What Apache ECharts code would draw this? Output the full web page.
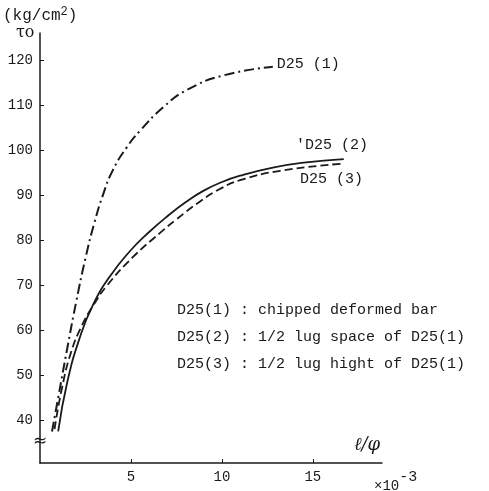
<!DOCTYPE html>
<html>
<head>
<meta charset="utf-8">
<script src="https://cdn.jsdelivr.net/npm/echarts@6/dist/echarts.min.js"></script>
<style>
  html, body { margin: 0; padding: 0; background: #fff; }
  #J_Main { width: 489px; height: 491px; }
</style>
</head>
<body>
<div id="J_Main"></div>
<script>
// values (x in 10^-3, y in kg/cm2)
var d1X = [0.66, 1.0, 1.5, 2.0, 2.5, 3.0, 3.5, 4.0, 4.75, 5.5, 6.8, 8.1, 10.1, 12.8];
var d1Y = [37.5, 45, 56, 66.5, 76, 84, 90.5, 95.5, 100.5, 104.3, 109.6, 113.4, 116.6, 118.5];

var d2X = [1.0, 1.5, 2.2, 2.9, 3.85, 5.0, 6.0, 7.0, 8.0, 9.0, 10.0, 11.0, 12.8, 14.5, 16.7];
var d2Y = [37.5, 48.5, 58.5, 65.5, 72, 77.8, 81.8, 85.3, 88.4, 91.0, 92.9, 94.3, 96.1, 97.2, 98.0];

var d3X = [0.8, 1.2, 1.7, 2.3, 2.9, 3.7, 5.1, 6.6, 7.5, 8.8, 10.0, 11.0, 13.2, 16.7];
var d3Y = [38, 47, 55, 61, 65.3, 70, 76.2, 81.6, 84.6, 88.6, 91.6, 93.3, 95.4, 97.0];

var xTicks = [5, 10, 15];
var yTicks = [40, 50, 60, 70, 80, 90, 100, 110, 120];

var legendLines = [
    "D25(1) : chipped deformed bar",
    "D25(2) : 1/2 lug space of D25(1)",
    "D25(3) : 1/2 lug hight of D25(1)"
];

function pairs(xs, ys) {
    return xs.map(function (x, i) { return [x, ys[i]]; });
}

var FONT = "Liberation Mono";
var INK = "#1a1a1a";

var myChart = echarts.init(document.getElementById("J_Main"), null, { renderer: "canvas" });

var textGraphics = [
    {
        type: "text", left: 3, top: 6, z: 100,
        style: {
            text: "{a|(kg/cm}{s|2}{a|)}",
            rich: {
                a: { fontFamily: FONT, fontSize: 16, fill: INK },
                s: { fontFamily: FONT, fontSize: 12, fill: INK, padding: [0, 0, 8, 0] }
            }
        }
    },
    { type: "text", left: 16, top: 25, z: 100, style: { text: "τo", fontFamily: "DejaVu Serif", fontSize: 16, fill: INK } },
    { type: "text", left: 33, top: 433, z: 100, style: { text: "≈", fontFamily: "DejaVu Sans", fontSize: 17, fill: INK } },
    { type: "text", left: 354, top: 436, z: 100, style: { text: "ℓ/φ", fontFamily: "DejaVu Serif", fontSize: 18, fontStyle: "italic", fill: INK } },
    {
        type: "text", left: 374, top: 470, z: 100,
        style: {
            text: "{a|×10}{s|-3}",
            rich: {
                a: { fontFamily: FONT, fontSize: 14, fill: INK, verticalAlign: "bottom" },
                s: { fontFamily: FONT, fontSize: 15, fill: INK, padding: [0, 0, 8, 0] }
            }
        }
    },
    { type: "text", left: 296, top: 138, z: 100, style: { text: "'D25 (2)", fontFamily: FONT, fontSize: 15, fill: INK } },
    { type: "text", left: 300, top: 172, z: 100, style: { text: "D25 (3)", fontFamily: FONT, fontSize: 15, fill: INK } }
];
legendLines.forEach(function (t, i) {
    textGraphics.push({ type: "text", left: 177, top: 303 + i * 27, z: 100, style: { text: t, fontFamily: FONT, fontSize: 15, fill: INK } });
});

var option = {
    animation: false,
    backgroundColor: "#fff",
    grid: { left: 40, width: 342, top: 33, height: 430, containLabel: false },
    xAxis: {
        type: "value",
        min: 0,
        max: 18.8,
        splitLine: { show: false },
        axisLine: { lineStyle: { color: INK, width: 1.5 } },
        axisTick: { inside: true, length: 4, customValues: xTicks, lineStyle: { color: INK } },
        axisLabel: { customValues: xTicks, margin: 7, fontFamily: FONT, fontSize: 14, color: INK }
    },
    yAxis: {
        type: "value",
        min: 30.5,
        max: 126,
        splitLine: { show: false },
        axisLine: { lineStyle: { color: INK, width: 1.5 } },
        axisTick: { inside: true, length: 4, customValues: yTicks, lineStyle: { color: INK } },
        axisLabel: { customValues: yTicks, margin: 7, fontFamily: FONT, fontSize: 14, color: INK }
    },
    graphic: textGraphics,
    series: [
        {
            name: "D25 (1)",
            type: "line",
            smooth: 0.5,
            symbol: "none",
            data: pairs(d1X, d1Y),
            lineStyle: { color: INK, width: 2, type: [10, 4, 2, 4] },
            endLabel: {
                show: true,
                formatter: "D25 (1)",
                fontFamily: FONT,
                fontSize: 15,
                color: INK,
                distance: 4,
                offset: [0, -3]
            }
        },
        {
            name: "D25 (2)",
            type: "line",
            smooth: 0.5,
            symbol: "none",
            data: pairs(d2X, d2Y),
            lineStyle: { color: INK, width: 1.8, type: "solid" }
        },
        {
            name: "D25 (3)",
            type: "line",
            smooth: 0.5,
            symbol: "none",
            data: pairs(d3X, d3Y),
            lineStyle: { color: INK, width: 1.8, type: [8, 4] }
        }
    ]
};
myChart.setOption(option);
</script>
</body>
</html>
